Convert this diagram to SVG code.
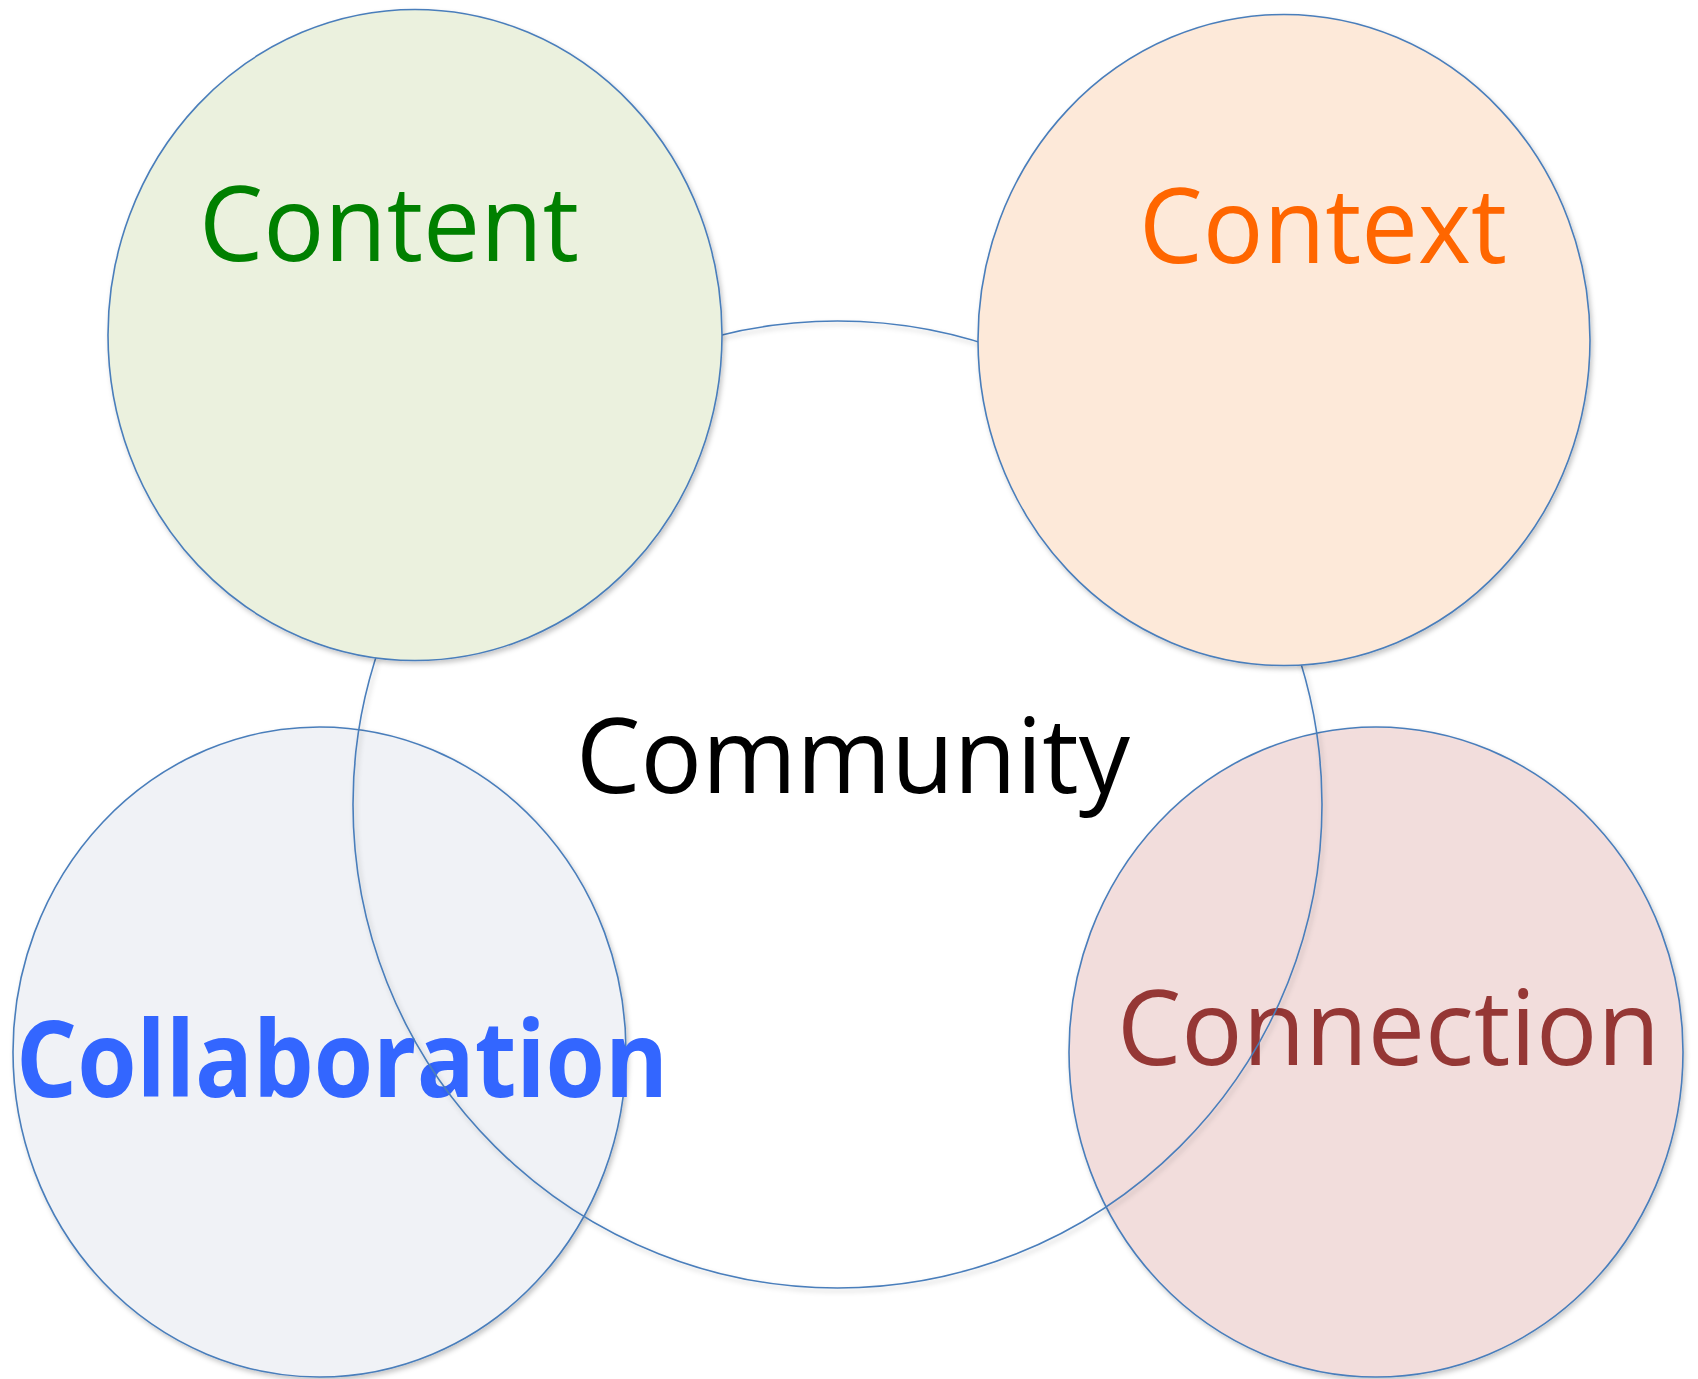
<svg xmlns="http://www.w3.org/2000/svg" width="1698" height="1379" viewBox="0 0 1698 1379">
<defs>
<filter id="sh" x="-10%" y="-10%" width="120%" height="120%">
<feDropShadow dx="2" dy="3" stdDeviation="2.5" flood-color="#000" flood-opacity="0.22"/>
</filter>
<style>
.c{stroke:#4A7EBB;stroke-width:1.6;filter:url(#sh);}
.t{font-family:"Open Sans","Noto Sans","Liberation Sans",sans-serif;font-size:105px;}
</style>
</defs>
<rect width="1698" height="1379" fill="#fff"/>
<g id="collaboration">
<ellipse class="c" cx="319.5" cy="1052" rx="306.5" ry="325" fill="#F0F2F6"/>
<text class="t" x="16" y="1097" textLength="652" lengthAdjust="spacingAndGlyphs" font-weight="bold" fill="#3366FF">Collaboration</text>
</g>
<g id="connection">
<ellipse class="c" cx="1376" cy="1052" rx="307" ry="325" fill="#F2DCDB" fill-opacity="0.95"/>
<text class="t" x="1117" y="1065" textLength="543" lengthAdjust="spacingAndGlyphs" fill="#953735">Connection</text>
</g>
<g id="community">
<ellipse class="c" cx="837.5" cy="804.5" rx="484.5" ry="483.5" fill="none"/>
<text class="t" x="576" y="793" textLength="554" lengthAdjust="spacingAndGlyphs" fill="#000">Community</text>
</g>
<g id="content">
<ellipse class="c" cx="415" cy="335" rx="307" ry="325.5" fill="#EBF1DE"/>
<text class="t" x="199" y="261" textLength="380" lengthAdjust="spacingAndGlyphs" fill="#008000">Content</text>
</g>
<g id="context">
<ellipse class="c" cx="1284" cy="340" rx="306" ry="325.5" fill="#FDE9D9"/>
<text class="t" x="1139" y="263" textLength="368" lengthAdjust="spacingAndGlyphs" fill="#FF6600">Context</text>
</g>
<g id="connectors"/>
</svg>
